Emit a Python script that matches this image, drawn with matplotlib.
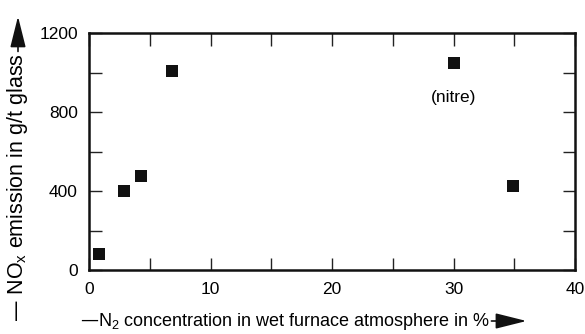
import matplotlib
matplotlib.use("Agg")
import matplotlib.pyplot as plt
from matplotlib.patches import FancyArrowPatch
from matplotlib.ticker import MultipleLocator

plt.rcParams['font.family'] = ['Liberation Sans', 'DejaVu Sans']

# data
n2_conc = [0.8, 2.9, 4.3, 6.8, 30.0, 34.9]
nox_emission = [80, 400, 476, 1007, 1048, 425]
note_label = "(nitre)"
note_index = 4

xticks = [0, 10, 20, 30, 40]
yticks = [0, 400, 800, 1200]

fs = 12.5

fig = plt.figure(figsize=(5.85, 3.34), dpi=100)
ax = fig.add_axes([89 / 585, 64 / 334, 486 / 585, 237 / 334])

ax.scatter(n2_conc, nox_emission, marker='s', s=68, color='#111111',
           linewidths=0, zorder=3, clip_on=False)
ax.text(n2_conc[note_index], nox_emission[note_index] - 175, note_label,
        ha='center', va='center', fontsize=fs)

ax.set_xlim(0, 40)
ax.set_ylim(0, 1200)
ax.set_xticks(xticks)
ax.set_yticks(yticks)
ax.xaxis.set_minor_locator(MultipleLocator(5))
ax.yaxis.set_minor_locator(MultipleLocator(200))
ax.tick_params(which='both', direction='in', top=True, right=True,
               width=1.0, length=9, labelsize=fs, color='#222222')
ax.tick_params(axis='x', which='major', pad=9)
ax.tick_params(axis='y', which='major', pad=8)
for sp in ax.spines.values():
    sp.set_linewidth(1.8)
    sp.set_color('#111111')

# axis labels with arrows
xlab = fig.text(80 / 585, 1 - 321 / 334,
                "\u2014N$_\\mathregular{2}$ concentration in wet furnace atmosphere in %",
                ha='left', va='center', fontsize=13)
ylab = fig.text(18 / 585, 1 - 322 / 334,
                "\u2014 NO$_\\mathregular{x}$ emission in g/t glass",
                ha='center', va='bottom', rotation=90, fontsize=15.5)

fig.canvas.draw()
inv = fig.transFigure.inverted()
bx = inv.transform(xlab.get_window_extent())
by = inv.transform(ylab.get_window_extent())
yc = 1 - 321 / 334
fig.add_artist(FancyArrowPatch(
    (bx[1][0] + 0.002, yc), (bx[1][0] + 0.062, yc),
    transform=fig.transFigure, arrowstyle='-|>,head_length=1.6,head_width=0.4',
    mutation_scale=12, color='#111111', lw=1.2, shrinkA=0, shrinkB=0))
xc = 18 / 585
top = min(by[1][1] + 0.11, 0.975)
fig.add_artist(FancyArrowPatch(
    (xc, by[1][1] + 0.005), (xc, top),
    transform=fig.transFigure, arrowstyle='-|>,head_length=1.6,head_width=0.4',
    mutation_scale=12, color='#111111', lw=1.2, shrinkA=0, shrinkB=0))

fig.savefig("out.png", dpi=100)
